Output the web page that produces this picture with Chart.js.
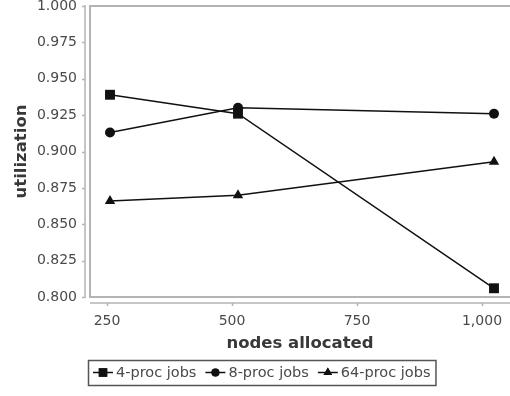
<!DOCTYPE html>
<html>
<head>
<meta charset="utf-8">
<script src="https://cdn.jsdelivr.net/npm/chart.js@4"></script>
<style>
  html, body { margin: 0; padding: 0; background: #fff; }
  #wrap { width: 510px; height: 396px; }
</style>
</head>
<body>
<div id="wrap"><canvas id="myChart" width="510" height="396"></canvas></div>
<script>
// 노드 수 (x축)
const nodes = [256, 512, 1024];

// 작업 크기별 이용률
const util4 = [0.939, 0.926, 0.806];
const util8 = [0.913, 0.930, 0.926];
const util64 = [0.866, 0.870, 0.893];

const seriesNames = ['4-proc jobs', '8-proc jobs', '64-proc jobs'];
const xTicks = [250, 500, 750, 1000];

const FONT = '"DejaVu Sans", Verdana, sans-serif';
const TEXT = '#4a4a4a';
const TITLE = '#383838';
const AXIS = '#b4b4b4';

function toPoints(vals) {
    return nodes.map((n, i) => ({ x: n, y: vals[i] }));
}

const styles = [
    { pointStyle: 'rect', radius: 7 },
    { pointStyle: 'circle', radius: 5 },
    { pointStyle: 'triangle', radius: 6 }
];

// 테두리, 보조 축선, 범례를 직접 그리는 플러그인
const framePlugin = {
    id: 'frame',
    afterDraw(chart) {
        const ctx = chart.ctx;
        const a = chart.chartArea;
        const yScale = chart.scales.y;
        const xScale = chart.scales.x;
        ctx.save();

        // 플롯 영역 테두리
        ctx.strokeStyle = AXIS;
        ctx.lineWidth = 2;
        ctx.beginPath();
        ctx.moveTo(a.right + 2, a.top);
        ctx.lineTo(a.left, a.top);
        ctx.lineTo(a.left, a.bottom);
        ctx.lineTo(a.right + 2, a.bottom);
        ctx.stroke();

        // 왼쪽 축선과 눈금
        ctx.lineWidth = 1.5;
        const yx = a.left - 5;
        ctx.beginPath();
        ctx.moveTo(yx, a.top - 1);
        ctx.lineTo(yx, a.bottom + 1);
        yScale.ticks.forEach(t => {
            const py = Math.round(yScale.getPixelForValue(t.value)) + 0.5;
            ctx.moveTo(yx, py);
            ctx.lineTo(yx - 3, py);
        });
        ctx.stroke();

        // 아래쪽 축선과 눈금
        const xy = a.bottom + 6;
        ctx.beginPath();
        ctx.moveTo(a.left, xy);
        ctx.lineTo(a.right + 2, xy);
        xScale.ticks.forEach(t => {
            const px = Math.round(xScale.getPixelForValue(t.value)) + 0.5;
            ctx.moveTo(px, xy);
            ctx.lineTo(px, xy + 3);
        });
        ctx.stroke();

        // 범례
        const boxX = 88, boxY = 360, boxH = 25;
        ctx.font = '14.5px ' + FONT;
        let x = boxX + 5;
        const cy = boxY + boxH / 2;
        const items = [];
        chart.data.datasets.forEach((ds, i) => {
            items.push({ x: x, ds: ds, i: i });
            x += 20 + 3 + ctx.measureText(ds.label).width + 9;
        });
        const boxW = x - 9 + 5 - boxX;

        ctx.strokeStyle = '#555';
        ctx.lineWidth = 1.5;
        ctx.strokeRect(boxX + 0.5, boxY + 0.5, boxW, boxH);

        items.forEach(it => {
            ctx.strokeStyle = '#111';
            ctx.fillStyle = '#111';
            ctx.lineWidth = 1.5;
            ctx.beginPath();
            ctx.moveTo(it.x, cy);
            ctx.lineTo(it.x + 20, cy);
            ctx.stroke();
            Chart.helpers.drawPoint(ctx, {
                pointStyle: it.ds.pointStyle,
                radius: it.ds.pointRadius - 1,
                borderWidth: 0
            }, it.x + 10, cy);
            ctx.fill();
            ctx.fillStyle = TEXT;
            ctx.textBaseline = 'middle';
            ctx.textAlign = 'left';
            ctx.fillText(it.ds.label, it.x + 23, cy + 1);
        });

        ctx.restore();
    }
};

const datasets = [util4, util8, util64].map((vals, i) => ({
    label: seriesNames[i],
    data: toPoints(vals),
    borderColor: '#111',
    backgroundColor: '#111',
    borderWidth: 1.5,
    pointStyle: styles[i].pointStyle,
    pointRadius: styles[i].radius,
    pointHoverRadius: styles[i].radius,
    pointBorderWidth: 0,
    tension: 0
}));

const myChart = new Chart(document.getElementById('myChart'), {
    type: 'line',
    data: { datasets: datasets },
    options: {
        responsive: false,
        animation: false,
        events: [],
        layout: { autoPadding: false, padding: { top: 6, right: 0, bottom: 40, left: 0 } },
        plugins: {
            legend: { display: false },
            tooltip: { enabled: false }
        },
        scales: {
            x: {
                type: 'linear',
                min: 216,
                max: 1056,
                grid: { display: false },
                border: { display: false },
                afterBuildTicks(scale) {
                    scale.ticks = xTicks.map(v => ({ value: v }));
                },
                afterFit(scale) {
                    scale.height = 59;
                    scale.paddingLeft = 0;
                    scale.paddingRight = 0;
                },
                ticks: {
                    color: TEXT,
                    font: { family: FONT, size: 14 },
                    padding: 8,
                    maxRotation: 0,
                    callback: v => v.toLocaleString('en-US')
                },
                title: {
                    display: true,
                    text: 'nodes allocated',
                    color: TITLE,
                    font: { family: FONT, size: 16.5, weight: 'bold' },
                    padding: { top: 0, bottom: 2 }
                }
            },
            y: {
                min: 0.8,
                max: 1.0,
                grid: { display: false },
                border: { display: false },
                afterFit(scale) {
                    scale.width = 90;
                    scale.paddingTop = 0;
                    scale.paddingBottom = 0;
                },
                ticks: {
                    stepSize: 0.025,
                    color: TEXT,
                    font: { family: FONT, size: 14 },
                    padding: 5,
                    callback: v => Number(v).toFixed(3)
                },
                title: {
                    display: true,
                    text: 'utilization',
                    color: TITLE,
                    font: { family: FONT, size: 16.5, weight: 'bold' },
                    padding: { top: 12, bottom: 0 }
                }
            }
        }
    },
    plugins: [framePlugin]
});
</script>
</body>
</html>
